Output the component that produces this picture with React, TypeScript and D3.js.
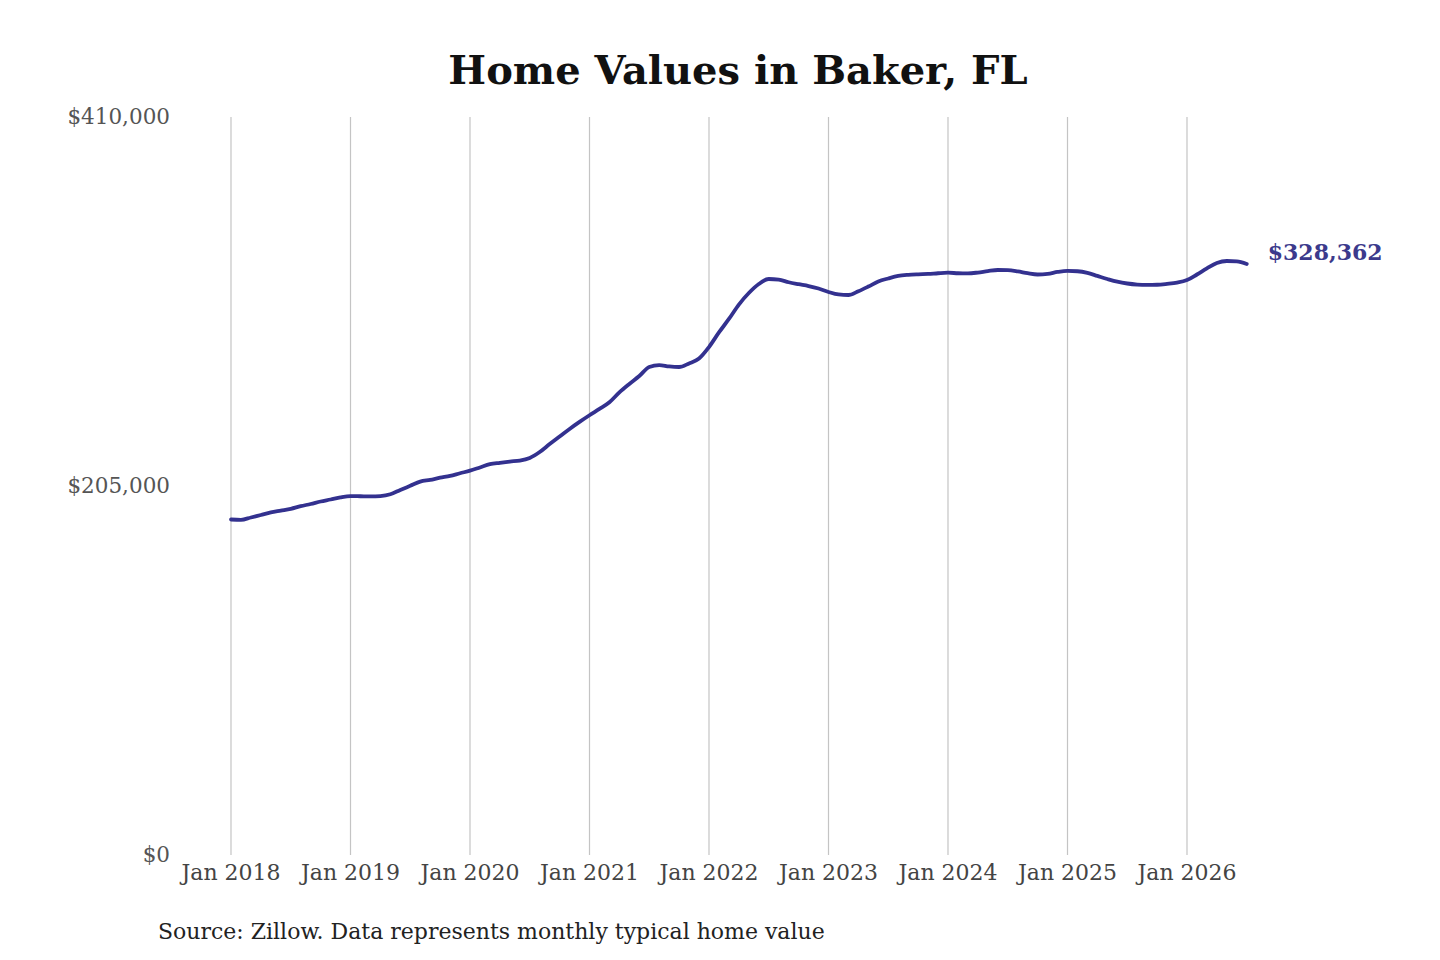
import React, { useEffect, useRef } from "react";
import * as d3 from "d3";

// Zillow typical home value, monthly, Jan 2018 - Jul 2026
const startYear = 2018;
const homeValues: number[] = [
  186400, 186200, 187500, 188900, 190300, 191300, 192300, 193800, 195000, 196400, 197500, 198700,
  199400, 199300, 199200, 199400, 200400, 202800, 205100, 207400, 208400, 209600, 210600, 212100,
  213500, 215300, 217100, 217900, 218600, 219100, 220600, 223900, 228300, 232500, 236700, 240600,
  244300, 247800, 251500, 257000, 261700, 266100, 271100, 272200, 271400, 271100, 273100, 275800,
  282200, 290300, 297800, 305800, 312200, 317200, 320000, 319700, 318200, 317100, 316100, 314700,
  312800, 311400, 311100, 313200, 315800, 318600, 320300, 321700, 322300, 322600, 322800, 323200,
  323500, 323200, 323100, 323600, 324400, 325000, 324900, 324200, 323200, 322500, 322800, 323900,
  324500, 324300, 323400, 321700, 320000, 318500, 317500, 316900, 316700, 316800, 317300, 318000,
  319400, 322500, 325900, 328900, 330000, 329800, 328362,
];
const yTicks = [0, 205000, 410000];
const xTickYears = [2018, 2019, 2020, 2021, 2022, 2023, 2024, 2025, 2026];

const title = "Home Values in Baker, FL";
const source = "Source: Zillow. Data represents monthly typical home value";

const App: React.FC = () => {
  const svgRef = useRef<SVGSVGElement>(null);

  useEffect(() => {
    if (!svgRef.current) return;
    document.body.style.margin = "0";

    const svg = d3.select(svgRef.current);
    svg.selectAll("*").remove();

    const width = 1440;
    const height = 960;
    const font = "'DejaVu Serif', serif";

    svg.attr("width", width).attr("height", height);
    svg.append("rect").attr("width", width).attr("height", height).attr("fill", "#fff");

    // month index -> x, evenly spaced like the original
    const x = d3.scaleLinear().domain([0, 96]).range([231, 1187]);
    const y = d3.scaleLinear().domain([0, 410000]).range([855, 117]);

    // Title
    svg
      .append("text")
      .attr("x", 738)
      .attr("y", 84)
      .attr("text-anchor", "middle")
      .style("font-family", font)
      .style("font-size", "40px")
      .style("font-weight", "bold")
      .style("fill", "#111")
      .text(title);

    // Vertical gridlines
    svg
      .append("g")
      .selectAll("line")
      .data(xTickYears)
      .join("line")
      .attr("x1", (d) => x((d - startYear) * 12))
      .attr("x2", (d) => x((d - startYear) * 12))
      .attr("y1", y(410000))
      .attr("y2", y(0))
      .attr("stroke", "#c4c4c4")
      .attr("stroke-width", 1.2);

    // X labels
    svg
      .append("g")
      .selectAll("text")
      .data(xTickYears)
      .join("text")
      .attr("x", (d) => x((d - startYear) * 12))
      .attr("y", 880)
      .attr("text-anchor", "middle")
      .style("font-family", font)
      .style("font-size", "22px")
      .style("fill", "#444")
      .text((d) => d3.timeFormat("%b %Y")(new Date(d, 0, 1)));

    // Y labels
    svg
      .append("g")
      .selectAll("text")
      .data(yTicks)
      .join("text")
      .attr("x", 170)
      .attr("y", (d) => y(d) + 1)
      .attr("text-anchor", "end")
      .attr("dominant-baseline", "middle")
      .style("font-family", font)
      .style("font-size", "21.5px")
      .style("fill", "#555")
      .text((d) => "$" + d3.format(",")(d));

    // Line
    const line = d3
      .line<number>()
      .x((_, i) => x(i))
      .y((d) => y(d))
      .curve(d3.curveMonotoneX);

    svg
      .append("path")
      .datum(homeValues)
      .attr("d", line)
      .attr("fill", "none")
      .attr("stroke", "#33318f")
      .attr("stroke-width", 3.8)
      .attr("stroke-linejoin", "round")
      .attr("stroke-linecap", "round");

    // End label
    const lastIdx = homeValues.length - 1;
    const lastVal = homeValues[lastIdx];
    svg
      .append("text")
      .attr("x", x(lastIdx) + 21)
      .attr("y", y(lastVal) - 10)
      .attr("dominant-baseline", "middle")
      .style("font-family", font)
      .style("font-size", "22px")
      .style("font-weight", "bold")
      .style("fill", "#3c3a8c")
      .text("$" + d3.format(",")(lastVal));

    // Source
    svg
      .append("text")
      .attr("x", 158)
      .attr("y", 939)
      .style("font-family", font)
      .style("font-size", "22px")
      .style("fill", "#222")
      .text(source);
  }, []);

  return (
    <div style={{ width: 1440, height: 960 }}>
      <svg ref={svgRef}></svg>
    </div>
  );
};

export default App;
